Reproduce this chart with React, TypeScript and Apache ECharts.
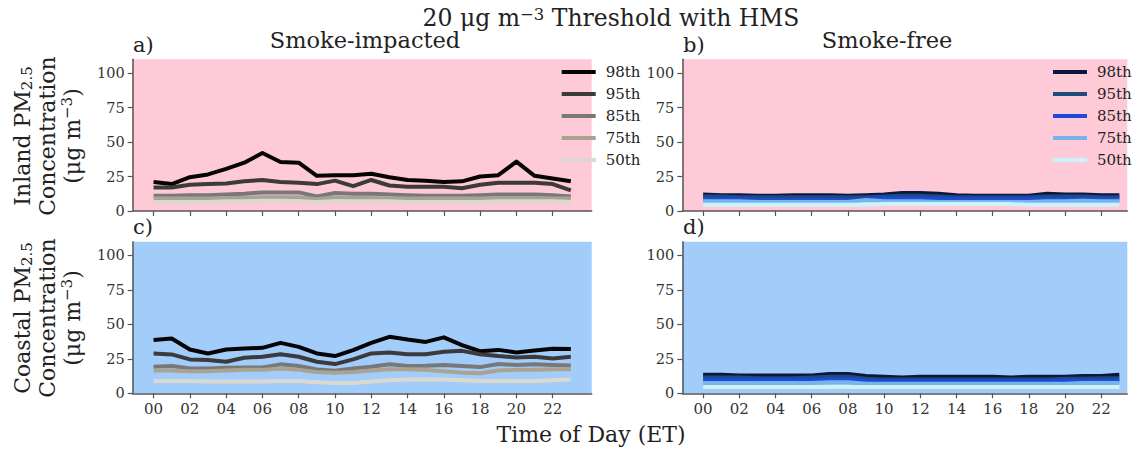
import React, { useEffect, useRef } from "react";
import * as echarts from "echarts";

// Hour of day (ET) and percentile names
const HOURS = [0, 1, 2, 3, 4, 5, 6, 7, 8, 9, 10, 11, 12, 13, 14, 15, 16, 17, 18, 19, 20, 21, 22, 23];
const PERCENTILES = ["98th", "95th", "85th", "75th", "50th"];
const X_TICKS = [0, 2, 4, 6, 8, 10, 12, 14, 16, 18, 20, 22];
const X_TICK_LABELS = ["00", "02", "04", "06", "08", "10", "12", "14", "16", "18", "20", "22"];
const Y_TICKS = [0, 25, 50, 75, 100];

// Line colours
const GREY_COLORS = ["#050505", "#3b3b3b", "#787878", "#aba391", "#dbd9cf"];
const BLUE_COLORS = ["#0b1642", "#1d4b7c", "#1c4bdc", "#78b4ec", "#cdf2fa"];
const INLAND_BG = "#ffcad8";
const COASTAL_BG = "#a2ccf9";

// a) Inland, smoke-impacted
const inlandSmoke98 = [21, 19.5, 24.5, 26.5, 30.5, 35, 42, 35.5, 35, 25.5, 26, 26, 27, 24.5, 22.5, 22, 21, 21.5, 25, 26, 35.8, 25.5, 23.5, 21.5];
const inlandSmoke95 = [17, 17, 19, 19.5, 20, 21.5, 22.5, 21, 20.5, 19.5, 22, 18, 22.5, 18.5, 17.5, 17.5, 17.5, 16.5, 19, 20.5, 20.5, 20.5, 19.5, 15];
const inlandSmoke85 = [11, 11, 11.5, 11.5, 12, 12.5, 13.5, 13.5, 13.5, 10.5, 13, 12.5, 12.5, 12, 11.5, 11, 11, 11, 11.5, 12, 12, 12, 11.5, 10.5];
const inlandSmoke75 = [9, 9, 9, 9, 9.5, 9.5, 10, 10, 10, 8.5, 10, 9.5, 9.5, 9, 9, 9, 9, 9, 9, 9.5, 9.5, 9.5, 9, 9];
const inlandSmoke50 = [6.5, 6.5, 6.5, 6.5, 7, 7, 7.5, 7.5, 7, 6.5, 7, 7, 7, 7, 6.5, 6.5, 6.5, 6.5, 6.5, 7, 7, 7, 7, 6.5];

// b) Inland, smoke-free
const inlandFree98 = [12, 11.5, 11.5, 11, 11, 11.5, 11.5, 11.5, 11, 11.5, 12, 13, 13, 12.5, 11.5, 11, 11, 11, 11, 12.5, 12, 12, 11.5, 11.5];
const inlandFree95 = [10.5, 10.5, 10, 10, 10, 10, 10, 10, 10, 10, 10.5, 11, 11, 10.5, 10, 10, 10, 10, 10, 10.5, 10.5, 10.5, 10, 10];
const inlandFree85 = [8.5, 8.5, 8.5, 8, 8, 8, 8, 8, 8, 8.5, 9, 9, 9, 8.5, 8.5, 8.5, 8.5, 8.5, 8.5, 8.5, 8.5, 8.5, 8.5, 8.5];
const inlandFree75 = [7, 7, 7, 6.5, 6.5, 6.5, 6.5, 6.5, 6.5, 8, 7, 7, 7, 6.5, 6.5, 6.5, 6.5, 6.5, 6.5, 7, 7, 7.5, 7, 7];
const inlandFree50 = [4.5, 4.5, 4.5, 4.5, 4.5, 4.5, 4.5, 4.5, 4.5, 4.5, 5, 5, 5, 5, 5, 5, 5, 5, 4.5, 4.5, 4.5, 4.5, 4.5, 4.5];

// c) Coastal, smoke-impacted
const coastalSmoke98 = [38.6, 39.8, 31.8, 28.9, 31.8, 32.5, 33, 36.6, 33.7, 28.9, 27, 31.3, 36.6, 41, 39, 37.3, 40.6, 35, 30.5, 31.5, 29.6, 31, 32.4, 32.2];
const coastalSmoke95 = [28.9, 28.2, 24.6, 24.1, 22.9, 25.8, 26.5, 28.4, 26.5, 22.9, 21.2, 24.6, 28.9, 29.6, 28.4, 28.4, 30.1, 30.8, 28.4, 27, 26, 26.5, 25.3, 26.5];
const coastalSmoke85 = [19.3, 19.8, 18, 18, 18.6, 18.8, 18.8, 21, 19.8, 17.3, 16.4, 18, 19.3, 21, 19.8, 20, 20.5, 19.8, 19, 21.2, 20.5, 21, 20.5, 20.2];
const coastalSmoke75 = [16.5, 16.5, 16, 16, 16.5, 17, 17, 18, 17, 15.5, 15, 15.5, 16.5, 17.5, 17.5, 17, 16, 15, 14.5, 16.5, 17, 17, 17.5, 17.5];
const coastalSmoke50 = [9, 9, 9, 8.5, 8.5, 8.5, 8.5, 9, 9, 8, 7.5, 7.5, 8.5, 9.5, 10, 10, 10, 9.5, 9, 9, 9, 9, 9.5, 10];

// d) Coastal, smoke-free
const coastalFree98 = [13.5, 13.5, 13, 13, 13, 13, 13, 14, 14, 12.5, 12, 11.5, 12, 12, 12, 12, 12, 11.5, 12, 12, 12, 12.5, 12.5, 13.5];
const coastalFree95 = [11.5, 11.5, 11.5, 11, 11, 11, 11.5, 12, 12, 10.5, 10, 10, 10, 10, 10, 10, 10, 10, 10, 10, 10.5, 10.5, 11, 11];
const coastalFree85 = [9.5, 9.5, 9.5, 9.5, 9.5, 9.5, 9.5, 10, 10, 9, 8.5, 8.5, 8.5, 8.5, 8.5, 8.5, 8.5, 8.5, 8.5, 8.5, 9, 9, 9, 9.5];
const coastalFree75 = [7.5, 7.5, 7.5, 7.5, 7.5, 7.5, 7.5, 8, 8, 7, 7, 7, 7, 7, 7, 7, 7, 7, 7, 7, 7, 7.5, 7.5, 7.5];
const coastalFree50 = [4.5, 4.5, 4.5, 4.5, 4.5, 4.5, 4.5, 4.5, 4.5, 4.5, 4.5, 4.5, 4.5, 4.5, 4.5, 4.5, 4.5, 4.5, 4.5, 4.5, 4.5, 4.5, 4.5, 4.5];

const FONT = "DejaVu Serif";
const AXIS_COLOR = "#555555";
const TEXT_COLOR = "#222222";

const PANELS = [
  { series: [inlandSmoke98, inlandSmoke95, inlandSmoke85, inlandSmoke75, inlandSmoke50], colors: GREY_COLORS },
  { series: [inlandFree98, inlandFree95, inlandFree85, inlandFree75, inlandFree50], colors: BLUE_COLORS },
  { series: [coastalSmoke98, coastalSmoke95, coastalSmoke85, coastalSmoke75, coastalSmoke50], colors: GREY_COLORS },
  { series: [coastalFree98, coastalFree95, coastalFree85, coastalFree75, coastalFree50], colors: BLUE_COLORS },
];

const GRIDS = [
  { left: 132.7, top: 59.3, width: 459, height: 151.7, bg: INLAND_BG, xMax: 24.15 },
  { left: 682.3, top: 59.3, width: 445, height: 151.7, bg: INLAND_BG, xMax: 23.44 },
  { left: 132.7, top: 241.7, width: 459, height: 151.6, bg: COASTAL_BG, xMax: 24.15 },
  { left: 682.3, top: 241.7, width: 445, height: 151.6, bg: COASTAL_BG, xMax: 23.44 },
];

function buildOption() {
  const grid = GRIDS.map((g) => ({
    left: g.left,
    top: g.top,
    width: g.width,
    height: g.height,
    show: true,
    backgroundColor: g.bg,
    borderWidth: 0,
  }));

  const xAxis = GRIDS.map((g, i) => ({
    type: "value",
    gridIndex: i,
    min: -1.15,
    max: g.xMax,
    axisLine: { show: true, onZero: false, lineStyle: { color: AXIS_COLOR, width: 1.5 } },
    axisTick: { show: true, length: 5, customValues: X_TICKS, lineStyle: { color: AXIS_COLOR, width: 1.2 } },
    axisLabel: {
      show: i >= 2,
      customValues: X_TICKS,
      formatter: (v: number) => X_TICK_LABELS[X_TICKS.indexOf(v)] ?? "",
      fontFamily: FONT,
      fontSize: 15,
      color: "#333",
      margin: 8,
    },
    splitLine: { show: false },
  }));

  const yAxis = GRIDS.map((_, i) => ({
    type: "value",
    gridIndex: i,
    min: 0,
    max: 110,
    axisLine: { show: true, onZero: false, lineStyle: { color: AXIS_COLOR, width: 1.5 } },
    axisTick: { show: true, length: 5, customValues: Y_TICKS, lineStyle: { color: AXIS_COLOR, width: 1.2 } },
    axisLabel: {
      customValues: Y_TICKS,
      fontFamily: FONT,
      fontSize: 14.5,
      color: "#333",
      margin: 8,
    },
    splitLine: { show: false },
  }));

  const series: any[] = [];
  PANELS.forEach((p, gi) => {
    p.series.forEach((vals, si) => {
      series.push({
        type: "line",
        name: PERCENTILES[si],
        xAxisIndex: gi,
        yAxisIndex: gi,
        data: HOURS.map((h, k) => [h, vals[k]]),
        showSymbol: false,
        symbol: "none",
        lineStyle: { color: p.colors[si], width: 4, join: "round", cap: "butt" },
        itemStyle: { color: p.colors[si] },
        emphasis: { disabled: true },
      });
    });
  });

  const legendBase = {
    orient: "vertical",
    top: 59,
    itemWidth: 34,
    itemHeight: 4,
    itemGap: 6,
    icon: "rect",
    selectedMode: false,
    textStyle: { fontFamily: FONT, fontSize: 15, color: TEXT_COLOR, lineHeight: 16, padding: [0, 0, 0, 5] },
  };
  const legend = [
    { ...legendBase, left: 556.7, data: PERCENTILES.map((n, i) => ({ name: n, itemStyle: { color: GREY_COLORS[i] } })) },
    { ...legendBase, left: 1048, data: PERCENTILES.map((n, i) => ({ name: n, itemStyle: { color: BLUE_COLORS[i] } })) },
  ];

  const txt = (x: number, y: number, text: string, size: number, align = "left", extra: any = {}) => ({
    type: "text",
    x,
    y,
    style: { text, fontFamily: FONT, fontSize: size, fill: TEXT_COLOR, align, verticalAlign: "middle", ...extra },
    silent: true,
  });

  const labelRich = {
    m: { fontFamily: FONT, fontSize: 22, lineHeight: 25, fill: TEXT_COLOR },
    s: { fontFamily: FONT, fontSize: 15, lineHeight: 10, verticalAlign: "bottom", fill: TEXT_COLOR },
    p: { fontFamily: FONT, fontSize: 15, lineHeight: 12, verticalAlign: "top", fill: TEXT_COLOR },
  };
  const yLabel = (y: number, place: string) => ({
    type: "text",
    x: 47,
    y,
    rotation: Math.PI / 2,
    silent: true,
    style: {
      text: `{m|${place} PM}{s|2.5}\n{m|Concentration}\n{m|(μg m}{p|−3}{m|)}`,
      rich: labelRich,
      align: "center",
      verticalAlign: "middle",
      fontFamily: FONT,
      fontSize: 22,
      fill: TEXT_COLOR,
    },
  });

  const titleRich = {
    t: { fontFamily: FONT, fontSize: 23.5, lineHeight: 24, fill: TEXT_COLOR },
    p: { fontFamily: FONT, fontSize: 16.5, lineHeight: 11, verticalAlign: "top", fill: TEXT_COLOR },
  };

  const graphic = [
    {
      type: "text",
      x: 611,
      y: 17.5,
      silent: true,
      style: {
        text: "{t|20 μg m}{p|−3}{t| Threshold with HMS}",
        rich: titleRich,
        align: "center",
        verticalAlign: "middle",
        fontFamily: FONT,
        fontSize: 23.5,
        fill: TEXT_COLOR,
      },
    },
    txt(133, 45, "a)", 21),
    txt(365, 40, "Smoke-impacted", 22.5, "center"),
    txt(683, 45, "b)", 21),
    txt(887, 40, "Smoke-free", 22.5, "center"),
    txt(133, 226.5, "c)", 21),
    txt(683, 226.5, "d)", 21),
    txt(591, 434, "Time of Day (ET)", 22, "center"),
    yLabel(136, "Inland"),
    yLabel(318, "Coastal"),
  ];

  return {
    animation: false,
    backgroundColor: "#ffffff",
    grid,
    xAxis,
    yAxis,
    series,
    legend,
    graphic,
  };
}

export default function App() {
  const ref = useRef<HTMLDivElement>(null);
  useEffect(() => {
    if (!ref.current) return;
    const chart = echarts.init(ref.current, undefined, { renderer: "svg" });
    chart.setOption(buildOption() as any);
    return () => chart.dispose();
  }, []);
  return (
    <div
      ref={ref}
      style={{ position: "fixed", left: 0, top: 0, width: 1138, height: 449, background: "#fff" }}
    />
  );
}
